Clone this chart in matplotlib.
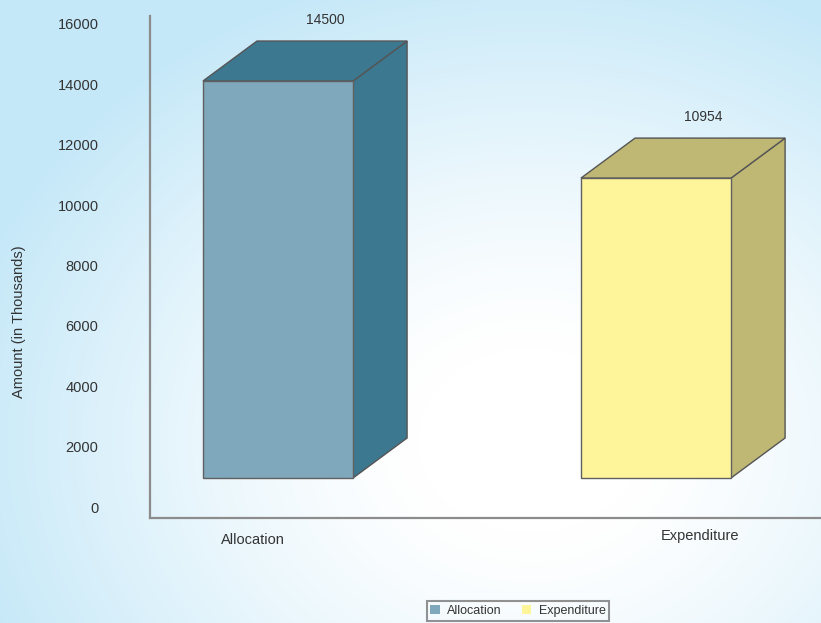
import numpy as np
import matplotlib
matplotlib.use('Agg')
import matplotlib.pyplot as plt
from matplotlib.patches import Polygon, Patch

plt.rcParams['font.family'] = ['Liberation Sans', 'DejaVu Sans']

# data
categories = ['Allocation', 'Expenditure']
amounts = [14500, 10954]
front_colors = ['#7fa8bc', '#fef59b']
shade_colors = ['#3c7890', '#bfb774']
yticks = [0, 2000, 4000, 6000, 8000, 10000, 12000, 14000, 16000]

W, H = 821, 623
fig = plt.figure(figsize=(W / 100, H / 100), dpi=100)

# radial background: white centre, light blue at the edges
bg = fig.add_axes([0, 0, 1, 1], zorder=0)
yy, xx = np.mgrid[0:H, 0:W]
r = np.sqrt(((xx - 530) / 560.0) ** 2 + ((yy - 440) / 460.0) ** 2)
t = np.clip((r - 0.2) / 0.85, 0, 1) ** 1.3
edge = np.array([197, 232, 248]) / 255.0
img = (1 - t[..., None]) * np.ones(3) + t[..., None] * edge
bg.imshow(img, aspect='auto', interpolation='bilinear')
bg.axis('off')

ax = fig.add_axes([150 / W, (H - 518) / H, (W - 150) / W, (518 - 16) / H], zorder=1)
ax.patch.set_alpha(0)
ax.set_xlim(-0.3386, 1.4365)
ax.set_ylim(-364, 16265)

# pseudo 3d settings
width = 0.397
dx = 0.143
dy = 1325
base = 961
squash = 0.9069

for i, (val, fc, sc) in enumerate(zip(amounts, front_colors, shade_colors)):
    x0 = i - width / 2
    x1 = i + width / 2
    top = base + val * squash
    front = Polygon([(x0, base), (x1, base), (x1, top), (x0, top)], closed=True,
                    facecolor=fc, edgecolor='#606060', lw=1.0, zorder=3)
    side = Polygon([(x1, base), (x1 + dx, base + dy), (x1 + dx, top + dy), (x1, top)],
                   closed=True, facecolor=sc, edgecolor='#555555', lw=1.0, zorder=2)
    lid = Polygon([(x0, top), (x1, top), (x1 + dx, top + dy), (x0 + dx, top + dy)],
                  closed=True, facecolor=sc, edgecolor='#555555', lw=1.0, zorder=2)
    for p in (side, lid, front):
        ax.add_patch(p)
    ax.text(i + 0.125, top + dy + 700, str(val), ha='center', va='center',
            fontsize=10, color='#333333')

label_shift = [-0.066, 0.116]
label_y = [-1090, -960]
for i, name in enumerate(categories):
    ax.text(i + label_shift[i], label_y[i], name, ha='center', va='center',
            fontsize=10.5, color='#333333')

ax.set_xticks([])
ax.set_yticks(yticks)
ax.set_yticklabels([str(v) for v in yticks], fontsize=10.5, color='#333333')
ax.tick_params(axis='y', length=0, pad=37)
for s in ('top', 'right'):
    ax.spines[s].set_visible(False)
for s in ('left', 'bottom'):
    ax.spines[s].set_color('#8c8c8c')
    ax.spines[s].set_linewidth(1.6)
ax.set_ylabel('Amount (in Thousands)', fontsize=10.5, color='#333333')
ax.yaxis.set_label_coords(-(150 - 26) / (W - 150), (518 - 322) / (518 - 16))

handles = [Patch(facecolor=c, edgecolor='none') for c in front_colors]
leg = fig.legend(handles, categories, loc='center', ncol=2,
                 bbox_to_anchor=(518 / W, 1 - 611 / H), fontsize=9,
                 frameon=True, fancybox=False, handlelength=0.75, handleheight=0.75,
                 handletextpad=0.6, columnspacing=1.6, borderpad=0.3)
leg.get_frame().set_edgecolor('#777777')
leg.get_frame().set_linewidth(1.5)
leg.get_frame().set_facecolor('none')
for txt in leg.get_texts():
    txt.set_color('#333333')

fig.savefig('out.png', dpi=100)
